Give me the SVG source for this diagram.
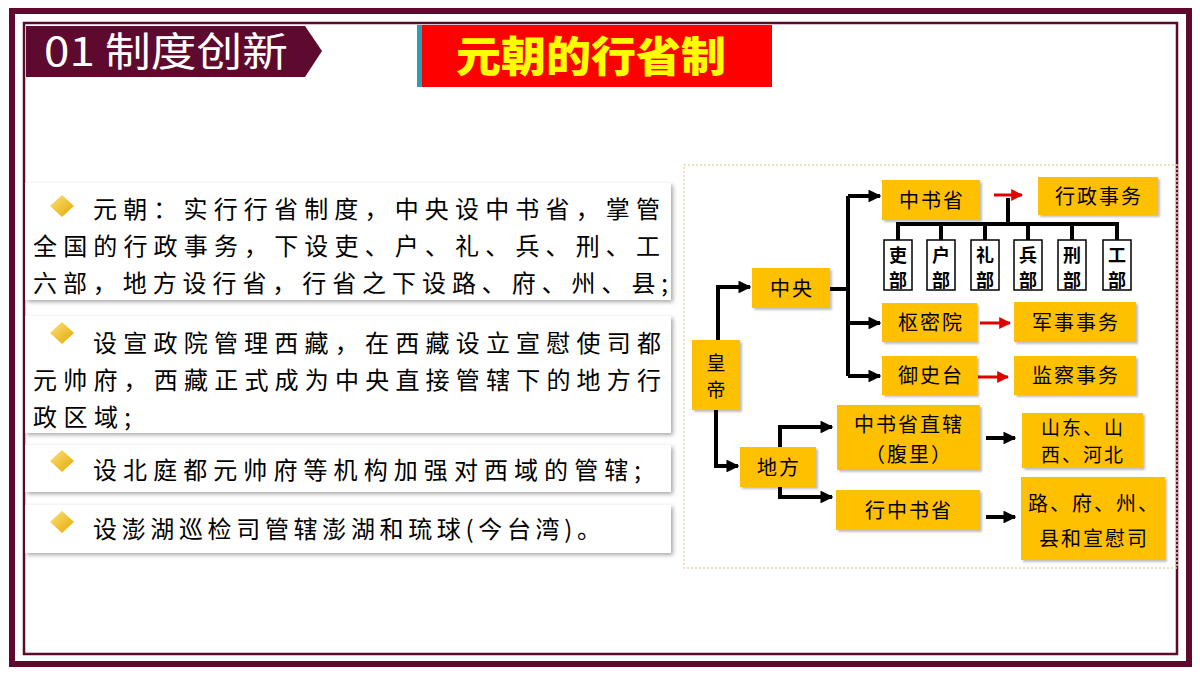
<svg xmlns="http://www.w3.org/2000/svg" width="1200" height="675" viewBox="0 0 1200 675">
<defs>
<marker id="ab" viewBox="0 0 10 10" refX="9" refY="5" markerWidth="3.2" markerHeight="3.2" orient="auto"><path d="M0,0L10,5L0,10z" fill="#000"/></marker>
<marker id="ar" viewBox="0 0 10 10" refX="9" refY="5" markerWidth="4" markerHeight="4" orient="auto"><path d="M0,0L10,5L0,10z" fill="#e00000"/></marker>
<linearGradient id="dg" x1="0" y1="0" x2="1" y2="1"><stop offset="0" stop-color="#ffe27a"/><stop offset="1" stop-color="#e0a800"/></linearGradient>
</defs>
<style>
.b{fill:#ffc000;filter:drop-shadow(2px 2px 1px rgba(0,0,0,0.25))}
.t{font-family:"Noto Sans CJK SC","Noto Sans",sans-serif;font-size:20px;fill:#000;text-anchor:middle;letter-spacing:2px}
.p{font-family:"Noto Sans CJK SC","Noto Sans",sans-serif;font-size:24px;fill:#000}
.card{fill:#fff;filter:drop-shadow(2px 2px 2px rgba(0,0,0,0.35))}
.c{fill:none;stroke:#000;stroke-width:4}
.r{fill:none;stroke:#e00000;stroke-width:3}
.bu{fill:#fff;stroke:#000;stroke-width:1.5}
.bt{font-family:"Noto Sans CJK SC",sans-serif;font-size:18px;font-weight:bold;text-anchor:middle}
</style>
<rect width="1200" height="675" fill="#fff"/>
<rect x="12" y="11" width="1177" height="653" fill="none" stroke="#5e0a2e" stroke-width="6"/>
<rect x="24" y="23" width="1153" height="631" fill="none" stroke="#5e0a2e" stroke-width="2.5"/>
<g id="header">
<path d="M26,26H305L322,51L305,77H26z" fill="#5e0a2e"/>
<text x="44" y="66" font-family="'Noto Sans CJK SC',sans-serif" font-size="40" fill="#fff" textLength="244" lengthAdjust="spacingAndGlyphs">01 制度创新</text>
</g>
<g id="title">
<rect x="417" y="25" width="355" height="62" fill="#ff0000"/>
<rect x="417" y="25" width="5" height="62" fill="#2ba0b5"/>
<text x="456" y="72" font-family="'Noto Sans CJK SC',sans-serif" font-weight="900" font-size="42" fill="#ffff00" textLength="270" lengthAdjust="spacingAndGlyphs">元朝的行省制</text>
</g>
<g id="cards">
<rect class="card" x="25" y="183" width="646" height="117"/>
<rect class="card" x="25" y="316" width="646" height="117"/>
<rect class="card" x="25" y="445" width="646" height="47"/>
<rect class="card" x="25" y="505" width="646" height="48"/>
<g fill="url(#dg)">
<path d="M62,195L74,206L62,217L50,206z"/>
<path d="M62,322L74,333L62,344L50,333z"/>
<path d="M62,450L74,461L62,472L50,461z"/>
<path d="M62,511L74,522L62,533L50,522z"/>
</g>
<text class="p" x="93" y="218" textLength="567" lengthAdjust="spacing">元朝：实行行省制度，中央设中书省，掌管</text>
<text class="p" x="33" y="255" textLength="627" lengthAdjust="spacing">全国的行政事务，下设吏、户、礼、兵、刑、工</text>
<text class="p" x="33" y="292" textLength="635" lengthAdjust="spacing">六部，地方设行省，行省之下设路、府、州、县;</text>
<text class="p" x="93" y="352" textLength="568" lengthAdjust="spacing">设宣政院管理西藏，在西藏设立宣慰使司都</text>
<text class="p" x="33" y="389" textLength="628" lengthAdjust="spacing">元帅府，西藏正式成为中央直接管辖下的地方行</text>
<text class="p" x="33" y="426" textLength="98" lengthAdjust="spacing">政区域;</text>
<text class="p" x="93" y="479" textLength="548" lengthAdjust="spacing">设北庭都元帅府等机构加强对西域的管辖;</text>
<text class="p" x="93" y="538" textLength="508" lengthAdjust="spacing">设澎湖巡检司管辖澎湖和琉球(今台湾)。</text>
</g>
<rect x="684" y="165" width="493" height="403" fill="none" stroke="#e8d9a8" stroke-width="1.5" stroke-dasharray="2,2"/>
<g id="connectors">
<path class="c" d="M718,340V287H750" marker-end="url(#ab)"/>
<path class="c" d="M716,410V466H738" marker-end="url(#ab)"/>
<path class="c" d="M830,289H848"/>
<path class="c" d="M848,196V376"/>
<path class="c" d="M848,196H880" marker-end="url(#ab)"/>
<path class="c" d="M848,323H880" marker-end="url(#ab)"/>
<path class="c" d="M848,376H880" marker-end="url(#ab)"/>
<path class="c" d="M780,447V427H832" marker-end="url(#ab)"/>
<path class="c" d="M780,487V497H832" marker-end="url(#ab)"/>
<path class="c" d="M986,438H1015" marker-end="url(#ab)"/>
<path class="c" d="M986,517H1015" marker-end="url(#ab)"/>
<path class="r" d="M994,195H1022" marker-end="url(#ar)"/>
<path class="r" d="M980,323H1010" marker-end="url(#ar)"/>
<path class="r" d="M978,377H1008" marker-end="url(#ar)"/>
<path class="c" d="M1008,198V224M898,240V224H1117V240M941,224V240M985,224V240M1028,224V240M1072,224V240"/>
</g>
<g id="n-huangdi"><rect class="b" x="692" y="340" width="48" height="70"/><text class="t" x="717" y="370" style="font-size:19px">皇</text><text class="t" x="717" y="397" style="font-size:19px">帝</text></g>
<g id="n-zhongyang"><rect class="b" x="752" y="268" width="78" height="40"/><text class="t" x="792" y="296">中央</text></g>
<g id="n-difang"><rect class="b" x="740" y="447" width="76" height="40"/><text class="t" x="779" y="475">地方</text></g>
<g id="n-zss"><rect class="b" x="882" y="180" width="98" height="40"/><text class="t" x="932" y="208">中书省</text></g>
<g id="n-xzsw"><rect class="b" x="1038" y="177" width="120" height="38"/><text class="t" x="1099" y="204">行政事务</text></g>
<g id="n-bu">
<rect class="bu" x="884" y="240" width="28" height="50"/><text class="bt" x="898" y="262">吏</text><text class="bt" x="898" y="287">部</text>
<rect class="bu" x="927" y="240" width="28" height="50"/><text class="bt" x="941" y="262">户</text><text class="bt" x="941" y="287">部</text>
<rect class="bu" x="971" y="240" width="28" height="50"/><text class="bt" x="985" y="262">礼</text><text class="bt" x="985" y="287">部</text>
<rect class="bu" x="1014" y="240" width="28" height="50"/><text class="bt" x="1028" y="262">兵</text><text class="bt" x="1028" y="287">部</text>
<rect class="bu" x="1058" y="240" width="28" height="50"/><text class="bt" x="1072" y="262">刑</text><text class="bt" x="1072" y="287">部</text>
<rect class="bu" x="1103" y="240" width="28" height="50"/><text class="bt" x="1117" y="262">工</text><text class="bt" x="1117" y="287">部</text>
</g>
<g id="n-smy"><rect class="b" x="882" y="303" width="95" height="39"/><text class="t" x="931" y="330">枢密院</text></g>
<g id="n-jssw"><rect class="b" x="1014" y="302" width="122" height="40"/><text class="t" x="1076" y="330">军事事务</text></g>
<g id="n-yst"><rect class="b" x="882" y="356" width="95" height="39"/><text class="t" x="931" y="383">御史台</text></g>
<g id="n-jcsw"><rect class="b" x="1014" y="356" width="122" height="39"/><text class="t" x="1076" y="383">监察事务</text></g>
<g id="n-fuli"><rect class="b" x="837" y="405" width="143" height="65"/><text class="t" x="909" y="432">中书省直辖</text><text class="t" x="909" y="462">（腹里）</text></g>
<g id="n-sd"><rect class="b" x="1022" y="413" width="121" height="55"/><text class="t" x="1083" y="435" style="font-size:19px">山东、山</text><text class="t" x="1083" y="462" style="font-size:19px">西、河北</text></g>
<g id="n-xzs"><rect class="b" x="836" y="490" width="144" height="40"/><text class="t" x="909" y="518">行中书省</text></g>
<g id="n-lu"><rect class="b" x="1021" y="477" width="144" height="83"/><text class="t" x="1094" y="511">路、府、州、</text><text class="t" x="1094" y="546">县和宣慰司</text></g>
</svg>
